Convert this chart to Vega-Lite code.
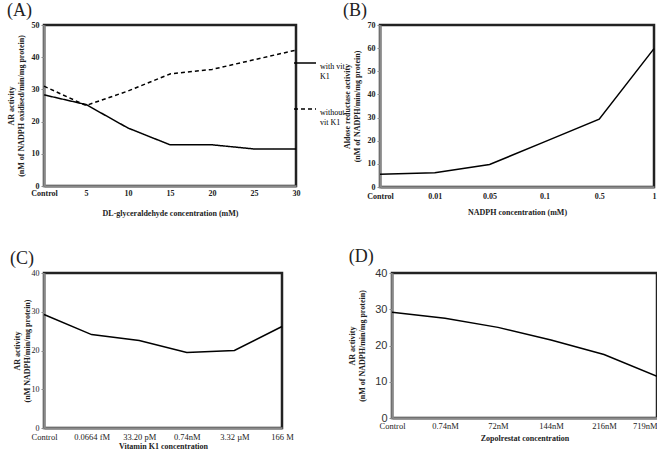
{
  "$schema": "https://vega.github.io/schema/vega-lite/v6.json",
  "padding": {"left": 5, "top": 0, "right": 0, "bottom": 0},
  "background": "white",
  "datasets": {
    "a": [
      {"conc": "Control", "activity": 28.3, "series": "with vit K1"},
      {"conc": "5", "activity": 25.3, "series": "with vit K1"},
      {"conc": "10", "activity": 18.0, "series": "with vit K1"},
      {"conc": "15", "activity": 12.8, "series": "with vit K1"},
      {"conc": "20", "activity": 12.8, "series": "with vit K1"},
      {"conc": "25", "activity": 11.5, "series": "with vit K1"},
      {"conc": "30", "activity": 11.5, "series": "with vit K1"},
      {"conc": "Control", "activity": 31.0, "series": "without vit K1"},
      {"conc": "5", "activity": 25.0, "series": "without vit K1"},
      {"conc": "10", "activity": 29.5, "series": "without vit K1"},
      {"conc": "15", "activity": 34.8, "series": "without vit K1"},
      {"conc": "20", "activity": 36.2, "series": "without vit K1"},
      {"conc": "25", "activity": 39.2, "series": "without vit K1"},
      {"conc": "30", "activity": 42.2, "series": "without vit K1"}
    ],
    "b": [
      {"conc": "Control", "activity": 5.5},
      {"conc": "0.01", "activity": 6.2},
      {"conc": "0.05", "activity": 9.7},
      {"conc": "0.1", "activity": 19.5},
      {"conc": "0.5", "activity": 29.3},
      {"conc": "1", "activity": 59.8}
    ],
    "c": [
      {"conc": "Control", "activity": 29.3},
      {"conc": "0.0664 fM", "activity": 24.1},
      {"conc": "33.20 pM", "activity": 22.6},
      {"conc": "0.74nM", "activity": 19.5},
      {"conc": "3.32 µM", "activity": 20.0},
      {"conc": "166 M", "activity": 26.2}
    ],
    "d": [
      {"conc": "Control", "activity": 29.2},
      {"conc": "0.74nM", "activity": 27.5},
      {"conc": "72nM", "activity": 25.0},
      {"conc": "144nM", "activity": 21.5},
      {"conc": "216nM", "activity": 17.5},
      {"conc": "719nM", "activity": 11.5}
    ]
  },
  "columns": 1,
  "align": "none",
  "spacing": 27,
  "concat": [
    {
      "spacing": 39,
      "hconcat": [
        {
          "width": 252,
          "height": 161,
          "title": {"text": "(A)"},
          "data": {"name": "a"},
          "mark": {"type": "line", "color": "#000", "strokeWidth": 1.5},
          "encoding": {
            "x": {
              "field": "conc", "type": "ordinal",
              "sort": ["Control", "5", "10", "15", "20", "25", "30"],
              "scale": {"type": "point", "padding": 0},
              "axis": {"title": "DL-glyceraldehyde concentration (mM)", "labelAngle": 0, "ticks": false, "labelPadding": 3, "titlePadding": 12}
            },
            "y": {
              "field": "activity", "type": "quantitative",
              "scale": {"domain": [0, 50]},
              "axis": {"values": [0, 10, 20, 30, 40, 50], "title": ["AR activity", "(nM of NADPH oxidised/min/mg protein)"], "titlePadding": 6}
            },
            "strokeDash": {
              "field": "series", "type": "nominal",
              "scale": {"domain": ["with vit K1", "without vit K1"], "range": [[1, 0], [4, 3]]},
              "legend": {
                "title": null,
                "orient": "none",
                "legendX": 249,
                "legendY": 26,
                "symbolType": "stroke",
                "symbolSize": 484,
                "symbolStrokeWidth": 1.5,
                "symbolStrokeColor": "#000",
                "labelBaseline": "top",
                "labelFont": "Liberation Serif",
                "labelFontSize": 8,
                "labelColor": "#000",
                "labelOffset": 3,
                "rowPadding": 16,
                "labelExpr": "datum.label == 'with vit K1' ? ['with vit', 'K1'] : ['without', 'vit K1']"
              }
            }
          }
        },
        {
          "width": 274,
          "height": 162,
          "title": {"text": "(B)"},
          "data": {"name": "b"},
          "mark": {"type": "line", "color": "#000", "strokeWidth": 1.5},
          "encoding": {
            "x": {
              "field": "conc", "type": "ordinal",
              "sort": ["Control", "0.01", "0.05", "0.1", "0.5", "1"],
              "scale": {"type": "point", "padding": 0},
              "axis": {"title": "NADPH concentration (mM)", "labelAngle": 0, "ticks": false, "labelPadding": 5, "titlePadding": 8}
            },
            "y": {
              "field": "activity", "type": "quantitative",
              "scale": {"domain": [0, 70]},
              "axis": {"values": [0, 10, 20, 30, 40, 50, 60, 70], "title": ["Aldose reductase activity", "(nM of NADPH/min/mg protein)"], "titlePadding": 6}
            }
          }
        }
      ]
    },
    {
      "spacing": 52,
      "hconcat": [
        {
          "width": 238,
          "height": 155,
          "title": {"text": "(C)", "dx": -3},
          "data": {"name": "c"},
          "mark": {"type": "line", "color": "#000", "strokeWidth": 1.5},
          "encoding": {
            "x": {
              "field": "conc", "type": "ordinal",
              "sort": ["Control", "0.0664 fM", "33.20 pM", "0.74nM", "3.32 µM", "166 M"],
              "scale": {"type": "point", "padding": 0},
              "axis": {"title": "Vitamin K1 concentration", "labelAngle": 0, "ticks": false, "labelPadding": 4, "titlePadding": 2, "labelFontWeight": "normal", "labelFontSize": 8.5}
            },
            "y": {
              "field": "activity", "type": "quantitative",
              "scale": {"domain": [0, 40]},
              "axis": {"values": [0, 10, 20, 30, 40], "title": ["AR activity", "(nM NADPH/min/mg protein)"], "titlePadding": 0, "labelFontWeight": "normal"}
            }
          }
        },
        {
          "width": 265,
          "height": 145,
          "title": {"text": "(D)"},
          "data": {"name": "d"},
          "mark": {"type": "line", "color": "#000", "strokeWidth": 1.5},
          "encoding": {
            "x": {
              "field": "conc", "type": "ordinal",
              "sort": ["Control", "0.74nM", "72nM", "144nM", "216nM", "719nM"],
              "scale": {"type": "point", "padding": 0},
              "axis": {"title": "Zopolrestat concentration", "labelAngle": 0, "ticks": false, "labelPadding": 3, "titlePadding": 5, "labelFontWeight": "normal", "labelFontSize": 8.5, "labelAlign": {"expr": "datum.value == '719nM' ? 'right' : 'center'"}}
            },
            "y": {
              "field": "activity", "type": "quantitative",
              "scale": {"domain": [0, 40]},
              "axis": {"values": [0, 10, 20, 30, 40], "title": ["AR activity", "(nM of NADPH/min/mg protein)"], "titlePadding": 8, "labelFont": "Liberation Sans", "labelFontSize": 11, "labelFontWeight": "normal", "labelColor": "#333"}
            }
          }
        }
      ]
    }
  ],
  "config": {
    "font": "Liberation Serif",
    "view": {"stroke": "#222", "strokeWidth": 2.5},
    "axis": {
      "grid": false,
      "labelFont": "Liberation Serif",
      "titleFont": "Liberation Serif",
      "labelColor": "#222",
      "titleColor": "#222",
      "domainColor": "#8a8a8a",
      "domainWidth": 2.5,
      "tickColor": "#8a8a8a",
      "tickSize": 3,
      "labelFontWeight": "bold",
      "titleFontWeight": "bold",
      "labelFontSize": 8,
      "titleFontSize": 8
    },
    "title": {"font": "Liberation Serif", "fontSize": 18, "fontWeight": "normal", "anchor": "start", "frame": "bounds", "offset": 1, "color": "#222"}
  }
}
